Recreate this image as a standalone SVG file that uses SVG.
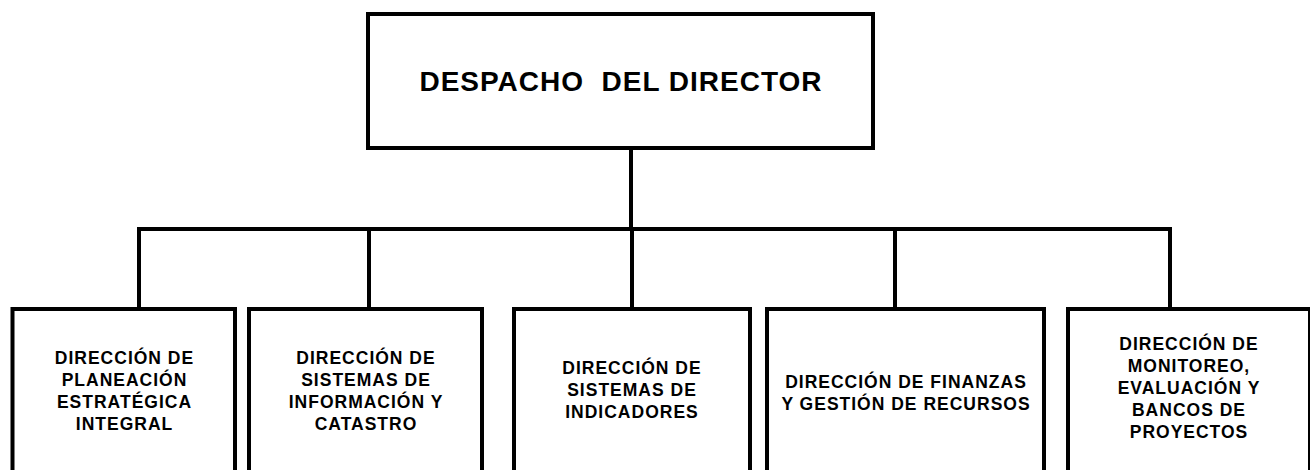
<svg xmlns="http://www.w3.org/2000/svg" width="1310" height="470" viewBox="0 0 1310 470">
<style>
.box{fill:#fff;stroke:#000;stroke-width:4}
.con{fill:none;stroke:#000;stroke-width:4;stroke-linejoin:miter}
.t{font-family:"Liberation Sans",Arial,sans-serif;font-weight:bold;fill:#000;text-anchor:middle}
.top{font-size:28px;letter-spacing:1px}
.sub{font-size:17.5px;letter-spacing:1px}
</style>
<rect width="1310" height="470" fill="#fff"/>
<g id="connectors">
<path class="con" d="M631,148 V229"/>
<path class="con" d="M139,309 V229 H1170 V309"/>
<path class="con" d="M369,229 V309"/>
<path class="con" d="M632,229 V309"/>
<path class="con" d="M895,229 V309"/>
</g>
<g id="despacho">
<rect class="box" x="368" y="14" width="505" height="134"/>
<text class="t top" x="621" y="91" xml:space="preserve">DESPACHO  DEL DIRECTOR</text>
</g>
<g id="planeacion">
<rect class="box" x="12.5" y="309" width="222.5" height="200"/>
<text class="t sub"><tspan x="124.5" y="364">DIRECCIÓN DE</tspan><tspan x="124.5" y="386">PLANEACIÓN</tspan><tspan x="124.5" y="408">ESTRATÉGICA</tspan><tspan x="124.5" y="430">INTEGRAL</tspan></text>
</g>
<g id="sistemas-informacion">
<rect class="box" x="249" y="309" width="233" height="200"/>
<text class="t sub"><tspan x="366" y="364">DIRECCIÓN DE</tspan><tspan x="366" y="386">SISTEMAS DE</tspan><tspan x="366" y="408">INFORMACIÓN Y</tspan><tspan x="366" y="430">CATASTRO</tspan></text>
</g>
<g id="indicadores">
<rect class="box" x="514" y="309" width="236" height="200"/>
<text class="t sub"><tspan x="632" y="374">DIRECCIÓN DE</tspan><tspan x="632" y="396">SISTEMAS DE</tspan><tspan x="632" y="418">INDICADORES</tspan></text>
</g>
<g id="finanzas">
<rect class="box" x="767" y="309" width="277" height="200"/>
<text class="t sub"><tspan x="906" y="388">DIRECCIÓN DE FINANZAS</tspan><tspan x="906" y="410">Y GESTIÓN DE RECURSOS</tspan></text>
</g>
<g id="monitoreo">
<rect class="box" x="1068" y="309" width="242" height="200"/>
<text class="t sub"><tspan x="1189" y="350">DIRECCIÓN DE</tspan><tspan x="1189" y="372">MONITOREO,</tspan><tspan x="1189" y="394">EVALUACIÓN Y</tspan><tspan x="1189" y="416">BANCOS DE</tspan><tspan x="1189" y="438">PROYECTOS</tspan></text>
</g>
</svg>
